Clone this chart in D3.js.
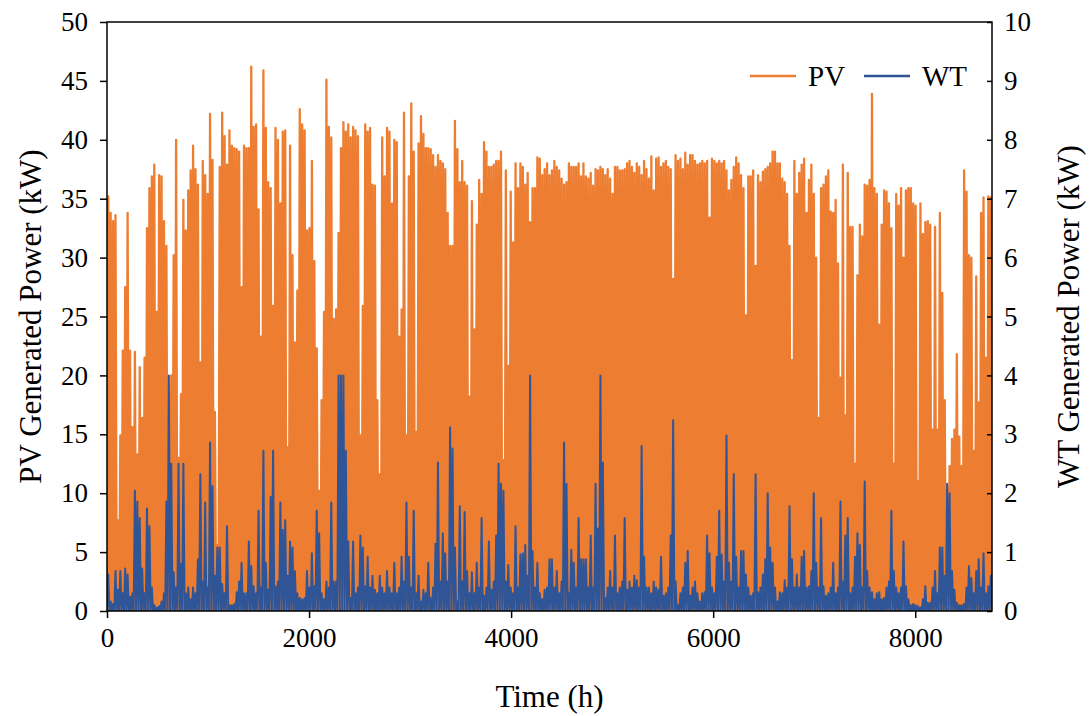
<!DOCTYPE html>
<html>
<head>
<meta charset="utf-8">
<script src="https://cdn.jsdelivr.net/npm/d3@7/dist/d3.min.js"></script>
<style>
  body { margin: 0; background: #fff; }
  text { font-family: "Liberation Serif", "Times New Roman", serif; }
</style>
</head>
<body>
<div id="chart"></div>
<script>
// daily peak of PV output (kW), one value per day of the year
const pvPeak = [
  35.2, 33.8, 33.1, 33.6, 7.7, 14.9, 22.1, 27.5, 33.8, 22.1, 15.6, 22, 13.3, 20.7, 16.4, 21.5, 32.5, 35.9, 36.9, 37.9, 25.4, 37, 36.9, 33.1, 31, 9.3, 20, 30.2, 40, 13,
  18.4, 34.9, 32.3, 35.7, 37.4, 39.5, 37.5, 36.2, 21.1, 38.2, 37, 35.4, 42.2, 38.3, 16.9, 5.6, 37.7, 42.3, 40.3, 37.9, 40.8, 39.5, 39.3, 39.2, 39, 27.5, 39.5, 39.3, 39.3, 46.2, 41.1, 41.3, 34.1,
  23.3, 45.9, 41, 36.4, 35.9, 25.9, 41, 40, 34.6, 40.7, 40.8, 13.9, 39.5, 30.2, 22.8, 27.2, 42.6, 41.3, 40.8, 32.3, 32.5, 38.2, 29.7, 22.3, 10.2, 17.9, 25.4, 45.1, 41.1, 40.2, 24.8, 25.6, 32.1,
  39.3, 41.5, 40.7, 41.3, 40.2, 41.1, 40.8, 40.3, 14.9, 25.9, 41.3, 40.7, 41, 36.2, 36.1, 17.9, 11.6, 40.2, 36.9, 41, 40.7, 34.6, 40, 39.8, 23.3, 25.6, 42.3, 14.9, 36.9, 43.1, 39, 15.2, 39.7,
  42, 40.5, 39.3, 39.3, 39.2, 38.7, 37.7, 38.7, 38.2, 38, 37.5, 33.8, 31, 31, 41.6, 39.2, 36.4, 38.2, 36.4, 36.1, 18.2, 34.8, 23.9, 32.8, 36.6, 35.4, 39.8, 39, 37.7, 37.7, 37.9, 38.2, 38.2,
  39, 12.8, 37.4, 20.8, 35.6, 31.3, 38, 35.9, 38, 37.7, 36.2, 37.2, 33, 35.9, 35.9, 38.5, 38.4, 37, 37.5, 38, 37, 37.4, 38.2, 37.7, 37.4, 36.7, 36.2, 36.4, 38, 37.7, 37.7, 37.7, 38,
  36.9, 38, 36.9, 36.7, 37.2, 36.1, 37.5, 37.4, 37.7, 37.5, 37, 37.5, 36.7, 35.4, 37.7, 37.7, 37.4, 37.4, 37.5, 38, 38.2, 37.7, 37.2, 38, 37.7, 37, 38.2, 37.5, 36.7, 38.6, 35.7, 38.4, 38.5,
  37.7, 38, 38.2, 37.7, 37.5, 28.2, 38.7, 38.2, 38.4, 37.5, 38.9, 37.9, 38.7, 38.7, 38.2, 37.9, 38, 38.2, 38, 38.2, 33.4, 38.4, 38.2, 38, 38.2, 38, 38.2, 37.4, 35.7, 36.6, 37.7, 38.5, 38,
  37, 35.9, 25.1, 36.9, 36.9, 37.4, 29.3, 37, 36.4, 37.3, 37.5, 37.7, 38, 39, 39, 38, 38, 36.7, 36.4, 35.4, 31, 21.3, 38.2, 35.4, 37.2, 37.9, 38.4, 33.8, 36.6, 37.9, 35.4, 30, 16.4,
  35.9, 36.2, 36.9, 37.4, 33.9, 33.8, 34.9, 29.5, 19.8, 37.9, 16.6, 37.2, 32.6, 32.6, 12.5, 28.5, 32.8, 31.8, 36.2, 36.1, 36.6, 43.9, 35.9, 35.4, 24.3, 32.8, 35.7, 35.6, 34.6, 32.5, 12.5, 35.4, 34.4,
  35.9, 30, 35.7, 35.9, 35.9, 34.6, 34.4, 11, 34.6, 32, 33, 33.1, 32.8, 15.4, 32.6, 15.4, 33.8, 27, 17.9, 10.5, 12.3, 14.6, 15.4, 21.8, 14.8, 12.3, 37.4, 35.6, 30.2, 30, 13.6, 28.4, 17.7, 33.8, 35.1, 21.5, 35.2, 35.1
];

// daily peak of WT output (kW)
const wtPeak = [
  0.62, 0.16, 0.12, 0.68, 0.36, 0.68, 0.30, 0.72, 0.62, 0.24,
  0.30, 2.04, 1.86, 1.58, 0.72, 0.30, 1.74, 1.44, 0.40, 0.10,
  0.06, 0.08, 0.16, 0.30, 1.86, 4.00, 2.50, 0.66, 0.40, 2.50,
  0.80, 2.50, 0.30, 0.40, 0.20, 0.40, 0.30, 0.88, 2.32, 0.50,
  1.84, 0.40, 2.86, 2.12, 0.60, 1.08, 1.08, 0.46, 0.30, 1.44,
  0.10, 0.10, 0.12, 0.32, 0.50, 0.82, 0.30, 0.30, 1.18, 0.76,
  0.42, 0.30, 1.70, 0.40, 2.72, 0.82, 0.36, 1.94, 2.72, 0.42,
  0.50, 1.84, 1.38, 1.54, 0.60, 1.18, 1.08, 0.68, 0.30, 0.22,
  0.20, 0.22, 0.68, 0.40, 0.98, 0.42, 1.70, 1.32, 0.30, 0.20,
  0.50, 0.40, 1.84, 0.50, 0.50, 4.00, 4.00, 4.00, 2.72, 1.18,
  0.22, 1.18, 0.30, 0.40, 1.28, 1.08, 0.42, 0.92, 0.40, 0.60,
  0.36, 0.30, 0.60, 0.40, 0.30, 0.68, 0.40, 0.30, 0.82, 0.30,
  0.40, 0.92, 0.50, 1.84, 0.92, 0.40, 1.70, 0.30, 0.60, 0.16,
  0.36, 0.30, 0.82, 0.22, 0.40, 1.14, 2.52, 0.50, 1.32, 0.98,
  0.50, 3.12, 2.76, 1.08, 0.16, 1.78, 0.50, 1.68, 0.68, 0.30,
  0.66, 0.30, 0.82, 0.40, 1.58, 0.26, 0.40, 1.18, 0.36, 0.50,
  1.28, 2.50, 2.16, 2.04, 0.50, 0.78, 0.40, 0.30, 1.44, 0.40,
  0.96, 0.98, 1.12, 0.60, 4.00, 1.02, 0.40, 0.82, 0.30, 0.20,
  0.36, 0.40, 0.88, 0.88, 0.40, 0.68, 0.30, 0.50, 2.86, 2.16,
  0.30, 1.04, 0.82, 0.40, 1.58, 0.88, 0.88, 0.88, 0.40, 1.28,
  0.40, 2.16, 1.40, 4.00, 2.52, 0.22, 0.40, 0.68, 0.40, 1.28,
  0.30, 0.40, 0.50, 1.58, 0.36, 0.50, 0.40, 0.60, 0.52, 0.40,
  2.80, 0.92, 0.40, 0.40, 0.30, 0.50, 0.40, 0.36, 0.92, 0.26,
  0.30, 0.40, 1.28, 3.24, 0.50, 0.10, 0.30, 0.40, 0.82, 1.02,
  0.26, 0.40, 0.50, 0.30, 0.16, 0.30, 0.32, 1.28, 0.98, 0.40,
  0.30, 0.92, 1.70, 0.96, 0.50, 2.98, 0.82, 0.50, 2.32, 0.92,
  0.40, 1.02, 1.02, 0.62, 0.40, 0.26, 0.30, 2.32, 0.32, 0.40,
  0.62, 0.88, 2.00, 1.08, 0.82, 0.40, 0.16, 0.32, 0.30, 0.52,
  0.40, 1.78, 0.88, 0.40, 0.62, 0.40, 0.92, 1.02, 0.40, 0.42,
  0.68, 2.00, 0.82, 0.40, 1.58, 0.42, 0.26, 0.30, 0.40, 0.82,
  0.30, 0.40, 1.86, 0.50, 1.28, 1.58, 0.30, 0.40, 0.92, 1.32,
  1.12, 0.40, 2.20, 0.68, 0.40, 0.32, 0.20, 0.30, 0.32, 0.20,
  0.22, 0.40, 0.50, 1.70, 0.68, 0.40, 0.30, 0.40, 1.18, 0.42,
  0.20, 0.10, 0.12, 0.10, 0.08, 0.06, 0.20, 0.42, 0.14, 0.14,
  0.40, 0.68, 0.30, 1.08, 1.08, 0.60, 2.16, 2.00, 0.68, 0.36,
  0.14, 0.10, 0.10, 0.12, 0.40, 0.76, 0.56, 0.30, 0.68, 0.88,
  0.40, 0.98, 0.30, 0.42, 0.60
];

const xTicks = [0, 2000, 4000, 6000, 8000];
const pvTicks = [0, 5, 10, 15, 20, 25, 30, 35, 40, 45, 50];
const wtTicks = [0, 1, 2, 3, 4, 5, 6, 7, 8, 9, 10];
const seriesNames = ["PV", "WT"];
const seriesColors = ["#ed7d31", "#2f5597"];

var width = 1092, height = 716
var margin = { left: 107, right: 100, top: 22, bottom: 105 }

const svg = d3.select("#chart")
    .append("svg")
    .attr("width", width)
    .attr("height", height)

var xScale = d3.scaleLinear().domain([0, 8760]).range([margin.left, width - margin.right])
var yPV = d3.scaleLinear().domain([0, 50]).range([height - margin.bottom, margin.top])
var yWT = d3.scaleLinear().domain([0, 10]).range([height - margin.bottom, margin.top])

svg.append("clipPath").attr("id", "plotClip")
    .append("rect")
    .attr("x", margin.left).attr("y", margin.top)
    .attr("width", width - margin.left - margin.right)
    .attr("height", height - margin.top - margin.bottom)

// each day: rises from the night-time zero to its peak at noon
function dailyPoints(peaks) {
    var pts = []
    peaks.forEach((p, d) => {
        pts.push([d * 24, 0])
        pts.push([d * 24 + 12, p])
    })
    pts.push([peaks.length * 24, 0])
    return pts
}

const plot = svg.append("g").attr("clip-path", "url(#plotClip)")

plot.append("path")
    .datum(dailyPoints(pvPeak))
    .attr("fill", "none")
    .attr("stroke", seriesColors[0])
    .attr("stroke-width", 2.3)
    .attr("stroke-linejoin", "round")
    .attr("d", d3.line().x(d => xScale(d[0])).y(d => yPV(d[1])))

plot.append("path")
    .datum(dailyPoints(wtPeak))
    .attr("fill", "none")
    .attr("stroke", seriesColors[1])
    .attr("stroke-width", 2)
    .attr("stroke-linejoin", "round")
    .attr("d", d3.line().x(d => xScale(d[0])).y(d => yWT(d[1])))

// frame
svg.append("rect")
    .attr("x", margin.left).attr("y", margin.top)
    .attr("width", width - margin.left - margin.right)
    .attr("height", height - margin.top - margin.bottom)
    .attr("fill", "none")
    .attr("stroke", "#000")
    .attr("stroke-width", 1.5)

function styleAxis(g) {
    g.select(".domain").remove()
    g.selectAll(".tick line").attr("stroke", "#000").attr("stroke-width", 1.5)
    g.selectAll(".tick text").attr("font-size", 27).attr("fill", "#000")
}

svg.append("g")
    .attr("transform", "translate(0," + (height - margin.bottom) + ")")
    .call(d3.axisBottom(xScale).tickValues(xTicks).tickFormat(d3.format("d")).tickSize(7).tickPadding(10))
    .call(styleAxis)

svg.append("g")
    .attr("transform", "translate(" + margin.left + ",0)")
    .call(d3.axisLeft(yPV).tickValues(pvTicks).tickSize(7).tickPadding(12))
    .call(styleAxis)

svg.append("g")
    .attr("transform", "translate(" + (width - margin.right) + ",0)")
    .call(d3.axisRight(yWT).tickValues(wtTicks).tickSizeInner(-5).tickSizeOuter(0).tickPadding(12))
    .call(styleAxis)

// axis titles
svg.append("text")
    .attr("x", (margin.left + width - margin.right) / 2)
    .attr("y", 707)
    .attr("text-anchor", "middle")
    .attr("font-size", 31)
    .text("Time (h)")

svg.append("text")
    .attr("transform", "translate(41," + ((margin.top + height - margin.bottom) / 2) + ") rotate(-90)")
    .attr("text-anchor", "middle")
    .attr("font-size", 31)
    .text("PV Generated Power (kW)")

svg.append("text")
    .attr("transform", "translate(1079," + ((margin.top + height - margin.bottom) / 2) + ") rotate(-90)")
    .attr("text-anchor", "middle")
    .attr("font-size", 31)
    .text("WT Generated Power (kW)")

// legend
const legend = svg.append("g").attr("transform", "translate(750,76)")
seriesNames.forEach((name, i) => {
    var gx = i * 114
    legend.append("line")
        .attr("x1", gx).attr("x2", gx + 46)
        .attr("y1", 0).attr("y2", 0)
        .attr("stroke", seriesColors[i])
        .attr("stroke-width", 2.5)
    legend.append("text")
        .attr("x", gx + 58).attr("y", 10)
        .attr("font-size", 29)
        .text(name)
})
</script>
</body>
</html>
